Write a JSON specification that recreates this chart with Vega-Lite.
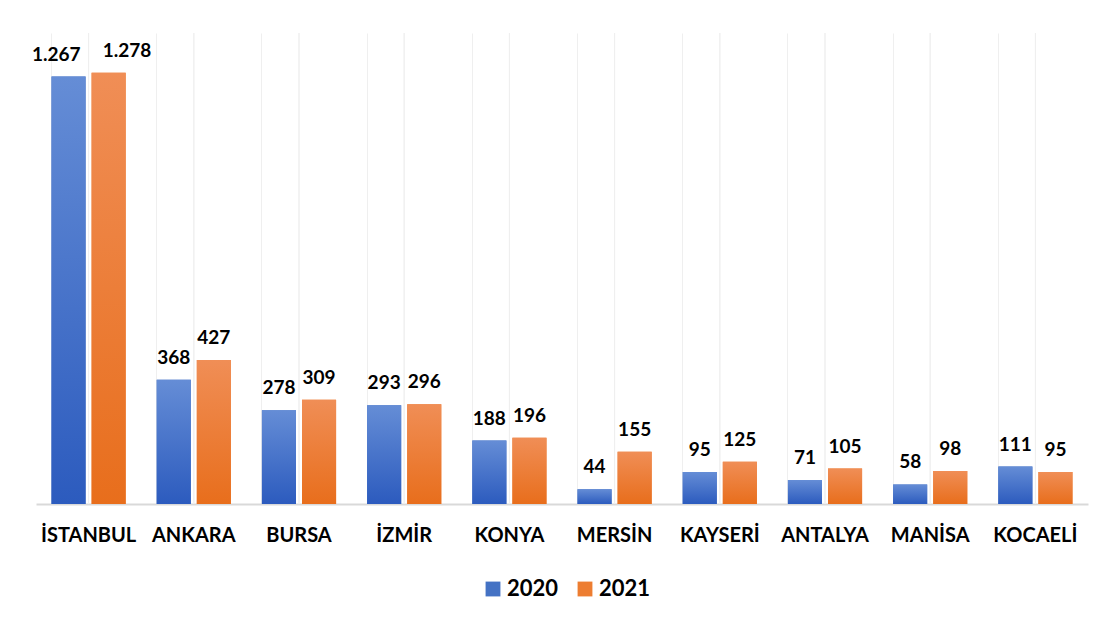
{
  "$schema": "https://vega.github.io/schema/vega-lite/v6.json",
  "width": 1052,
  "height": 471,
  "padding": {"left": 31, "top": 32, "right": 32, "bottom": 20},
  "background": "white",
  "config": {
    "view": {"stroke": null},
    "font": "Lato",
    "locale": {"number": {"decimal": ",", "thousands": ".", "grouping": [3], "currency": ["", " ₺"]}}
  },
  "data": {
    "values": [
      {"city": "İSTANBUL", "year": "2020", "value": 1267},
      {"city": "İSTANBUL", "year": "2021", "value": 1278},
      {"city": "ANKARA", "year": "2020", "value": 368},
      {"city": "ANKARA", "year": "2021", "value": 427},
      {"city": "BURSA", "year": "2020", "value": 278},
      {"city": "BURSA", "year": "2021", "value": 309},
      {"city": "İZMİR", "year": "2020", "value": 293},
      {"city": "İZMİR", "year": "2021", "value": 296},
      {"city": "KONYA", "year": "2020", "value": 188},
      {"city": "KONYA", "year": "2021", "value": 196},
      {"city": "MERSİN", "year": "2020", "value": 44},
      {"city": "MERSİN", "year": "2021", "value": 155},
      {"city": "KAYSERİ", "year": "2020", "value": 95},
      {"city": "KAYSERİ", "year": "2021", "value": 125},
      {"city": "ANTALYA", "year": "2020", "value": 71},
      {"city": "ANTALYA", "year": "2021", "value": 105},
      {"city": "MANİSA", "year": "2020", "value": 58},
      {"city": "MANİSA", "year": "2021", "value": 98},
      {"city": "KOCAELİ", "year": "2020", "value": 111},
      {"city": "KOCAELİ", "year": "2021", "value": 95}
    ]
  },
  "encoding": {
    "x": {
      "field": "city", "type": "nominal", "sort": null,
      "scale": {"paddingInner": 0.295, "paddingOuter": 0.1475},
      "axis": {
        "title": null, "labelAngle": 0, "ticks": false,
        "domainColor": "#D9D9D9", "domainWidth": 2,
        "labelPadding": 21, "labelFontSize": 20, "labelFontWeight": "bold",
        "labelColor": "#000000", "labelFont": "Lato",
        "grid": true, "bandPosition": 0, "gridColor": "#EFEFEF", "gridWidth": 1
      }
    }
  },
  "layer": [
    {
      "mark": {"type": "rule", "color": "#EFEFEF", "strokeWidth": 1},
      "encoding": {}
    },
    {
      "mark": {"type": "bar"},
      "encoding": {
        "xOffset": {"field": "year", "type": "nominal", "scale": {"paddingInner": 0.15}},
        "y": {"field": "value", "type": "quantitative", "scale": {"domain": [0, 1396], "nice": false}, "axis": null},
        "color": {
          "field": "year", "type": "nominal",
          "scale": {"domain": ["2020", "2021"], "range": ["#4472C4", "#ED7D31"]},
          "legend": {
            "title": null, "orient": "none", "direction": "horizontal",
            "legendX": 446, "legendY": 545,
            "symbolType": "square", "symbolSize": 220, "symbolStrokeWidth": 0,
            "labelFontSize": 22, "labelFontWeight": "bold", "labelColor": "#000000",
            "labelFont": "Lato", "columnPadding": 15, "labelOffset": 3
          }
        }
      }
    },
    {
      "transform": [{"filter": "datum.year == '2020'"}],
      "mark": {
        "type": "bar",
        "fill": {"gradient": "linear", "x1": 0, "y1": 0, "x2": 0, "y2": 1,
          "stops": [{"offset": 0, "color": "#658DD6"}, {"offset": 1, "color": "#2C5BBE"}]}
      },
      "encoding": {
        "xOffset": {"field": "year", "type": "nominal"},
        "y": {"field": "value", "type": "quantitative"}
      }
    },
    {
      "transform": [{"filter": "datum.year == '2021'"}],
      "mark": {
        "type": "bar",
        "fill": {"gradient": "linear", "x1": 0, "y1": 0, "x2": 0, "y2": 1,
          "stops": [{"offset": 0, "color": "#F08E56"}, {"offset": 1, "color": "#E86E1C"}]}
      },
      "encoding": {
        "xOffset": {"field": "year", "type": "nominal"},
        "y": {"field": "value", "type": "quantitative"}
      }
    },
    {
      "transform": [{"filter": "datum.city != 'İSTANBUL'"}],
      "mark": {"type": "text", "baseline": "alphabetic", "dy": -16, "fontSize": 19, "fontWeight": "bold", "font": "Lato", "color": "#000000"},
      "encoding": {
        "xOffset": {"field": "year", "type": "nominal"},
        "y": {"field": "value", "type": "quantitative"},
        "text": {"field": "value", "type": "quantitative", "format": ",d"}
      }
    },
    {
      "transform": [{"filter": "datum.city == 'İSTANBUL' && datum.year == '2020'"}],
      "mark": {"type": "text", "baseline": "alphabetic", "align": "right", "dx": 12, "dy": -16, "fontSize": 19, "fontWeight": "bold", "font": "Lato", "color": "#000000"},
      "encoding": {
        "xOffset": {"field": "year", "type": "nominal"},
        "y": {"field": "value", "type": "quantitative"},
        "text": {"field": "value", "type": "quantitative", "format": ",d"}
      }
    },
    {
      "transform": [{"filter": "datum.city == 'İSTANBUL' && datum.year == '2021'"}],
      "mark": {"type": "text", "baseline": "alphabetic", "align": "left", "dx": -6, "dy": -16, "fontSize": 19, "fontWeight": "bold", "font": "Lato", "color": "#000000"},
      "encoding": {
        "xOffset": {"field": "year", "type": "nominal"},
        "y": {"field": "value", "type": "quantitative"},
        "text": {"field": "value", "type": "quantitative", "format": ",d"}
      }
    }
  ]
}
